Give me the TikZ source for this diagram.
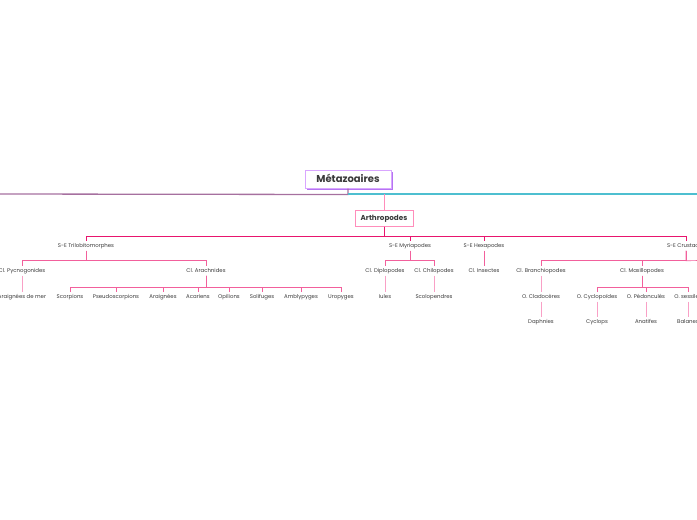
\documentclass[tikz,border=0pt]{standalone}
\usepackage{fontspec}
\setmainfont{Poppins}
\usetikzlibrary{shadows}

\definecolor{txt}{HTML}{3A3A3A}
\definecolor{rootline}{HTML}{D9A6FF}
\definecolor{rootshade}{HTML}{B574F2}
\definecolor{arthline}{HTML}{FF8DBB}
\definecolor{arthshade}{HTML}{F2649E}
\definecolor{purpleline}{HTML}{A6709F}
\definecolor{cyanline}{HTML}{4DBFD0}
\definecolor{pinkA}{HTML}{E8156E}
\definecolor{pinkB}{HTML}{F2609C}
\definecolor{pinkC}{HTML}{F9A0C6}

\begin{document}
\begin{tikzpicture}[x=1pt,y=-1pt,
  every node/.style={font=\fontsize{5.4}{6.5}\selectfont,text=txt,inner sep=2pt,text height=4pt,text depth=1pt},
  rootbox/.style={draw=rootline,line width=1pt,fill=white,font=\fontsize{10}{12}\selectfont\bfseries,
    minimum width=86pt,minimum height=18pt,text height=7.5pt,text depth=1.5pt,
    drop shadow={shadow xshift=1.6pt,shadow yshift=-1.6pt,fill=rootshade,opacity=1}},
  arthbox/.style={draw=arthline,line width=1pt,fill=white,font=\fontsize{7.2}{8.5}\selectfont\bfseries,
    minimum width=58pt,minimum height=16pt,text height=5.5pt,text depth=1pt,
    drop shadow={shadow xshift=1.4pt,shadow yshift=-1.4pt,fill=arthshade,opacity=1}},
  barA/.style={draw=pinkA,line width=1pt},
  barB/.style={draw=pinkB,line width=0.7pt},
  barC/.style={draw=pinkC,line width=0.7pt}]
  \useasboundingbox (0,0) rectangle (697,520);
  \clip (0,0) rectangle (697,520);

  % root and main branch
  \coordinate (leftend) at (-5,194);
  \coordinate (rightend) at (705,194);
  \coordinate (crustR) at (705,260.5);
  \node[rootbox] (meta) at (348,179) {Métazoaires};
  \node[arthbox] (arthro) at (384,218) {Arthropodes};

  % super-classes
  \node (trilo) at (86,246) {S-E Trilobitomorphes};
  \node (myria) at (410,246) {S-E Myriapodes};
  \node (hexa) at (484,246) {S-E Hexapodes};
  \node (crust) at (686,246) {S-E Crustacés};

  % classes
  \node (pycno) at (22,271) {Cl. Pycnogonides};
  \node (arach) at (206,271) {Cl. Arachnides};
  \node (diplo) at (385,271) {Cl. Diplopodes};
  \node (chilo) at (434,271) {Cl. Chilopodes};
  \node (insect) at (484,271) {Cl. Insectes};
  \node (branch) at (541,271) {Cl. Branchiopodes};
  \node (maxil) at (642,271) {Cl. Maxillopodes};

  % orders
  \node (merAra) at (22,297) {Araignées de mer};
  \node (scorp) at (70,297) {Scorpions};
  \node (pseudo) at (116,297) {Pseudoscorpions};
  \node (araig) at (163,297) {Araignées};
  \node (acar) at (198,297) {Acariens};
  \node (opil) at (229,297) {Opilions};
  \node (solif) at (262,297) {Solifuges};
  \node (ambly) at (301,297) {Amblypyges};
  \node (uro) at (341,297) {Uropyges};
  \node (iules) at (385,297) {Iules};
  \node (scolo) at (434,297) {Scolopendres};
  \node (clado) at (541,297) {O. Cladocères};
  \node (cyclo) at (597,297) {O. Cyclopoïdes};
  \node (pedon) at (646,297) {O. Pédonculés};
  \node (sessil) at (688,297) {O. sessiles};

  \node (daph) at (541,322) {Daphnies};
  \node (cyclops) at (597,322) {Cyclops};
  \node (anat) at (646,322) {Anatifes};
  \node (balan) at (688,322) {Balanes};

  % connectors
  \draw[purpleline,line width=1.3pt] (meta.south) -- ++(0,6) -- (leftend);
  \draw[cyanline,line width=1.3pt] (meta.south |- leftend) -- (rightend);
  \draw[arthline,line width=1pt] (arthro.north) -- (arthro.north |- rightend);
  \foreach \c in {trilo,myria,hexa,crust}
    \draw[barA] (arthro.south) -- ++(0,10) -| (\c.north);
  \foreach \c in {pycno,arach}
    \draw[barB] (trilo.south) -- ++(0,10) -| (\c.north);
  \foreach \c in {diplo,chilo}
    \draw[barB] (myria.south) -- ++(0,10) -| (\c.north);
  \foreach \c in {branch,maxil}
    \draw[barB] (crust.south) -- ++(0,10) -| (\c.north);
  \draw[barB] (crust.south) -- ++(0,10) -- (crustR);
  \draw[barB] (hexa) -- (insect);
  \foreach \c in {scorp,pseudo,araig,acar,opil,solif,ambly,uro}
    \draw[barB] (arach.south) -- ++(0,11.5) -| (\c.north);
  \foreach \c in {cyclo,pedon,sessil}
    \draw[barB] (maxil.south) -- ++(0,11.5) -| (\c.north);
  \draw[barC] (pycno) -- (merAra);
  \draw[barC] (diplo) -- (iules);
  \draw[barC] (chilo) -- (scolo);
  \draw[barC] (branch) -- (clado);
  \draw[barC] (clado) -- (daph);
  \draw[barC] (cyclo) -- (cyclops);
  \draw[barC] (pedon) -- (anat);
  \draw[barC] (sessil) -- (balan);
\end{tikzpicture}
\end{document}
